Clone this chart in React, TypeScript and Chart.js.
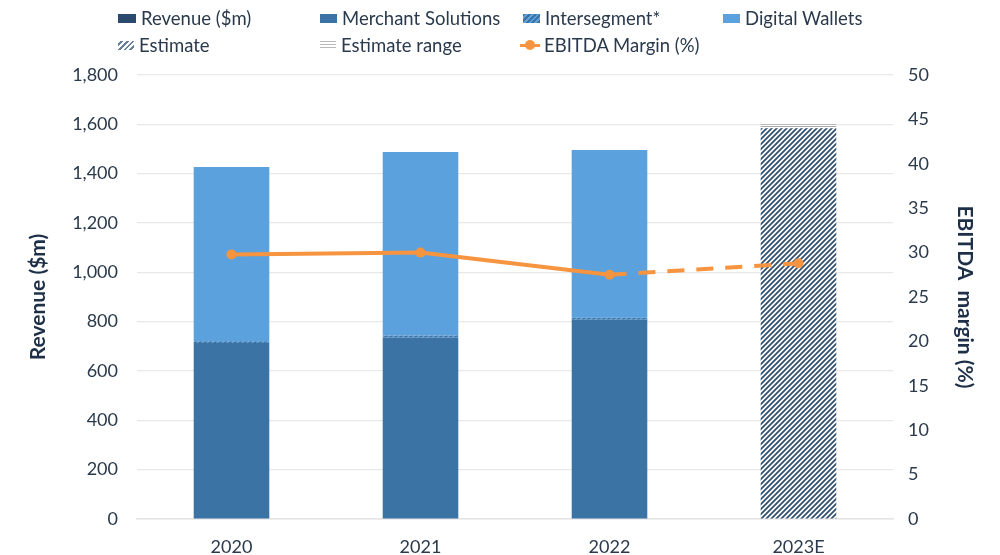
import React, { useEffect, useRef } from "react";
import { Chart, registerables } from "chart.js";

Chart.register(...registerables);

const categories = ["2020", "2021", "2022", "2023E"];
const merchantSolutions = [714, 736, 808, null];
const intersegment = [7, 8, 8, null];
const digitalWallets = [706, 744, 680, null];
const estimate = [null, null, null, 1584];
const estimateRange = [null, null, null, 16];
const ebitdaMargin = [29.8, 30.0, 27.5, 28.8];

const leftTicks = { min: 0, max: 1800, step: 200 };
const rightTicks = { min: 0, max: 50, step: 5 };

const FONT = "Lato, 'Noto Sans', sans-serif";
const TEXT = "#2a3a4c";
const NAVY = "#2c4a6e";
const MERCHANT = "#3c73a5";
const WALLET = "#5aa1de";
const ORANGE = "#f7943f";

function diagPattern(bg: string | null, fg: string, size: number, lw: number) {
  const c = document.createElement("canvas");
  c.width = size;
  c.height = size;
  const g = c.getContext("2d")!;
  if (bg) {
    g.fillStyle = bg;
    g.fillRect(0, 0, size, size);
  }
  g.strokeStyle = fg;
  g.lineWidth = lw;
  g.beginPath();
  g.moveTo(-1, size + 1);
  g.lineTo(size + 1, -1);
  g.moveTo(-1, 1);
  g.lineTo(1, -1);
  g.moveTo(size - 1, size + 1);
  g.lineTo(size + 1, size - 1);
  g.stroke();
  return g.createPattern(c, "repeat")!;
}

function horizPattern(bg: string, fg: string) {
  const c = document.createElement("canvas");
  c.width = 4;
  c.height = 2;
  const g = c.getContext("2d")!;
  g.fillStyle = bg;
  g.fillRect(0, 0, 4, 2);
  g.fillStyle = fg;
  g.fillRect(0, 0, 4, 1);
  return g.createPattern(c, "repeat")!;
}

const legendRows: { x: number; y: number; label: string; swatch: React.CSSProperties; sw: number }[] = [
  { x: 118, y: 18, label: "Revenue ($m)", sw: 18, swatch: { background: NAVY, height: 9 } },
  { x: 320, y: 18, label: "Merchant Solutions", sw: 17, swatch: { background: MERCHANT, height: 9 } },
  {
    x: 523,
    y: 18,
    label: "Intersegment*",
    sw: 17,
    swatch: {
      height: 9,
      background: `repeating-linear-gradient(135deg, ${MERCHANT} 0px, ${MERCHANT} 2px, ${WALLET} 2px, ${WALLET} 4px)`,
    },
  },
  { x: 723, y: 18, label: "Digital Wallets", sw: 17, swatch: { background: WALLET, height: 9 } },
  {
    x: 118,
    y: 45,
    label: "Estimate",
    sw: 16,
    swatch: {
      height: 9,
      background: `repeating-linear-gradient(135deg, #ffffff 0px, #ffffff 2px, #6a7f98 2px, #6a7f98 4px)`,
    },
  },
  {
    x: 320,
    y: 45,
    label: "Estimate range",
    sw: 16,
    swatch: {
      height: 9,
      background: `repeating-linear-gradient(180deg, #b8b8b8 0px, #b8b8b8 1px, #ffffff 1px, #ffffff 3px)`,
    },
  },
];

export default function App() {
  const ref = useRef<HTMLCanvasElement | null>(null);

  useEffect(() => {
    if (!ref.current) return;
    const estPattern = diagPattern("#ffffff", "#33506f", 5, 1.8);
    const interPattern = diagPattern(MERCHANT, WALLET, 5, 1.5);
    const rangePattern = horizPattern("#ffffff", "#a8a8a8");

    const chart = new Chart(ref.current, {
      type: "bar",
      data: {
        labels: categories,
        datasets: [
          {
            type: "line",
            label: "EBITDA Margin (%)",
            data: ebitdaMargin,
            yAxisID: "y1",
            borderColor: ORANGE,
            backgroundColor: ORANGE,
            borderWidth: 4,
            pointRadius: 5,
            pointBackgroundColor: ORANGE,
            pointBorderWidth: 0,
            tension: 0,
            order: 0,
            segment: {
              borderDash: (ctx: any) => (ctx.p1DataIndex === 3 ? [17, 12] : undefined),
            },
          } as any,
          {
            label: "Merchant Solutions",
            data: merchantSolutions,
            backgroundColor: MERCHANT,
            yAxisID: "y",
            stack: "rev",
            order: 1,
          },
          {
            label: "Intersegment*",
            data: intersegment,
            backgroundColor: interPattern,
            yAxisID: "y",
            stack: "rev",
            order: 1,
          },
          {
            label: "Digital Wallets",
            data: digitalWallets,
            backgroundColor: WALLET,
            yAxisID: "y",
            stack: "rev",
            order: 1,
          },
          {
            label: "Estimate",
            data: estimate,
            backgroundColor: estPattern,
            yAxisID: "y",
            stack: "rev",
            order: 1,
          },
          {
            label: "Estimate range",
            data: estimateRange,
            backgroundColor: rangePattern,
            yAxisID: "y",
            stack: "rev",
            order: 1,
          },
        ],
      },
      options: {
        animation: false,
        responsive: false,
        maintainAspectRatio: false,
        devicePixelRatio: 1,
        layout: { padding: { top: 75, left: 0, right: 0, bottom: 0 } },
        datasets: { bar: { barPercentage: 0.4, categoryPercentage: 1 } },
        plugins: { legend: { display: false }, tooltip: { enabled: false } },
        scales: {
          x: {
            stacked: true,
            grid: { display: false },
            border: { display: true, color: "#e4e4e4", width: 1.5 },
            ticks: { color: TEXT, font: { family: FONT, size: 18 }, padding: 9 },
            afterFit: (s: any) => {
              s.height = 36;
            },
          },
          y: {
            stacked: true,
            position: "left",
            min: leftTicks.min,
            max: leftTicks.max,
            ticks: { stepSize: leftTicks.step, color: TEXT, font: { family: FONT, size: 18 }, padding: 19 },
            grid: { color: "#e8e8e8", lineWidth: 1.2, drawTicks: false },
            border: { display: false },
            title: {
              display: true,
              text: "Revenue ($m)",
              color: "#1e3048",
              font: { family: FONT, size: 21, weight: "bold" },
              padding: { top: 26, bottom: 0 },
            },
            afterFit: (s: any) => {
              s.width = 137;
            },
          },
          y1: {
            position: "right",
            min: rightTicks.min,
            max: rightTicks.max,
            ticks: { stepSize: rightTicks.step, color: TEXT, font: { family: FONT, size: 18 }, padding: 15 },
            grid: { display: false, drawTicks: false },
            border: { display: false },
            title: {
              display: true,
              text: "EBITDA  margin (%)",
              color: "#1e3048",
              font: { family: FONT, size: 21, weight: "bold" },
              padding: { top: 23, bottom: 0 },
            },
            afterFit: (s: any) => {
              s.width = 107;
            },
          },
        },
      },
    });
    return () => chart.destroy();
  }, []);

  return (
    <div style={{ position: "fixed", left: 0, top: 0, width: 1000, height: 555, background: "#fff", fontFamily: FONT }}>
      <canvas ref={ref} width={1000} height={555} style={{ position: "absolute", left: 0, top: 0 }} />
      {legendRows.map((r) => (
        <div
          key={r.label}
          style={{
            position: "absolute",
            left: r.x,
            top: r.y - 12,
            height: 24,
            display: "flex",
            alignItems: "center",
            fontSize: 18.5,
            color: TEXT,
            whiteSpace: "nowrap",
          }}
        >
          <span style={{ display: "inline-block", width: r.sw, marginRight: 5, ...r.swatch }} />
          {r.label}
        </div>
      ))}
      <div
        style={{
          position: "absolute",
          left: 520,
          top: 45 - 12,
          height: 24,
          display: "flex",
          alignItems: "center",
          fontSize: 18.5,
          color: TEXT,
          whiteSpace: "nowrap",
        }}
      >
        <span style={{ position: "relative", display: "inline-block", width: 20, height: 10, marginRight: 4 }}>
          <span style={{ position: "absolute", left: 0, top: 3.5, width: 20, height: 3, background: ORANGE }} />
          <span
            style={{ position: "absolute", left: 5, top: 0, width: 10, height: 10, borderRadius: 5, background: ORANGE }}
          />
        </span>
        EBITDA Margin (%)
      </div>
    </div>
  );
}
